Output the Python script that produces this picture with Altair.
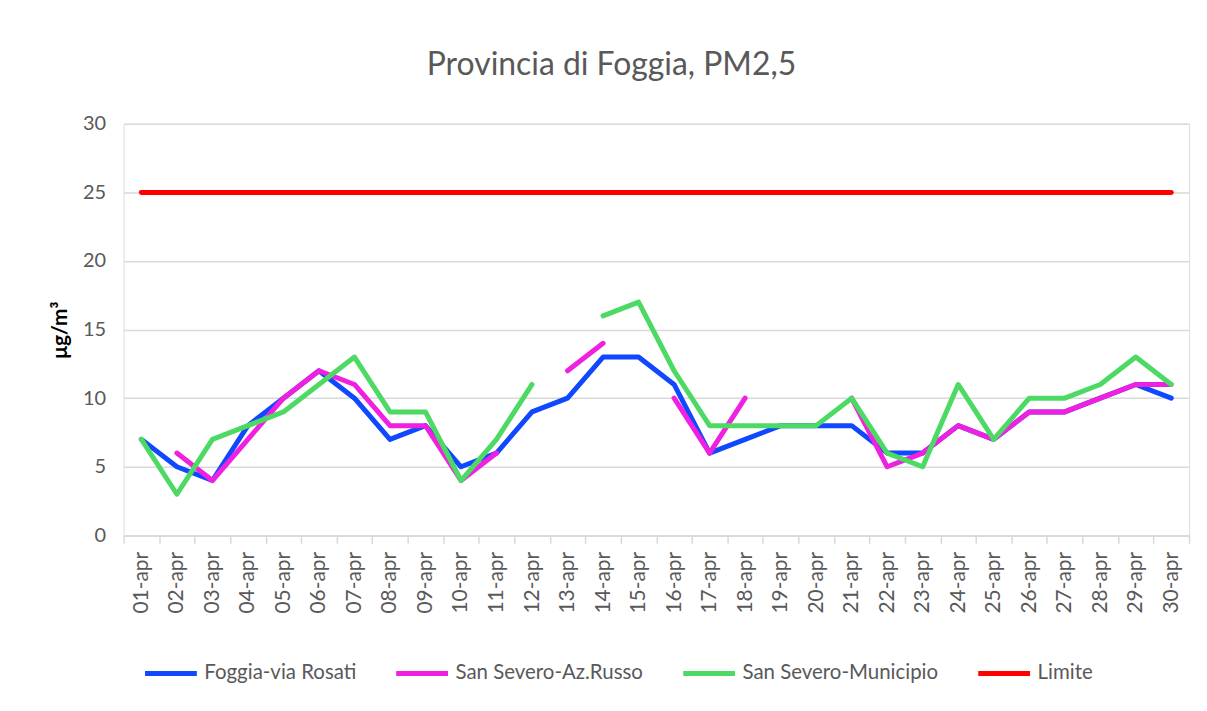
import altair as alt
import pandas as pd

days = [f"{d:02d}-apr" for d in range(1, 31)]

foggia = [7, 5, 4, 8, 10, 12, 10, 7, 8, 5, 6, 9, 10, 13, 13, 11, 6, 7, 8, 8,
          8, 6, 6, 8, 7, 9, 9, 10, 11, 10]
russo = [None, 6, 4, 7, 10, 12, 11, 8, 8, 4, 6, None, 12, 14, None, 10, 6, 10, None, None,
         10, 5, 6, 8, 7, 9, 9, 10, 11, 11]
municipio = [7, 3, 7, 8, 9, 11, 13, 9, 9, 4, 7, 11, None, 16, 17, 12, 8, 8, 8, 8,
             10, 6, 5, 11, 7, 10, 10, 11, 13, 11]
limite = [25] * 30

series_names = ["Foggia-via Rosati", "San Severo-Az.Russo", "San Severo-Municipio", "Limite"]
series_colors = ["#1048ff", "#f020e0", "#4cd964", "#ff0000"]
series_widths = [5, 5, 5, 6.5]

rows = []
for name, vals in zip(series_names, [foggia, russo, municipio, limite]):
    for i, (d, v) in enumerate(zip(days, vals)):
        rows.append({"day": d, "series": name, "order": series_names.index(name), "value": v})
df = pd.DataFrame(rows)

FONT = "Lato"
GRAY = "#595959"
LIGHT = "#d9d9d9"

chart = alt.Chart(df).mark_line(
    strokeCap="round", strokeJoin="round", invalid="break-paths-filter-domains"
).encode(
    x=alt.X(
        "day:O",
        sort=days,
        bandPosition=0.5,
        scale=alt.Scale(type="band", paddingInner=0, paddingOuter=0),
        axis=alt.Axis(
            title=None,
            labelAngle=270,
            labelFont=FONT,
            labelFontSize=21,
            labelColor=GRAY,
            tickBand="extent",
            tickSize=8,
            tickColor=LIGHT,
            tickWidth=1.5,
            domainColor=LIGHT,
            domainWidth=1.5,
            labelPadding=8,
            grid=False,
        ),
    ),
    y=alt.Y(
        "value:Q",
        scale=alt.Scale(domain=[0, 30], nice=False),
        axis=alt.Axis(
            title="μg/m³",
            titleFont=FONT,
            titleFontSize=21,
            titleFontWeight="bold",
            titleColor="#000000",
            titlePadding=12,
            values=[0, 5, 10, 15, 20, 25, 30],
            labelFont=FONT,
            labelFontSize=20,
            labelColor=GRAY,
            labelPadding=18,
            ticks=False,
            domain=False,
            gridColor=LIGHT,
            gridWidth=1.5,
        ),
    ),
    color=alt.Color(
        "series:N",
        sort=series_names,
        scale=alt.Scale(domain=series_names, range=series_colors),
        legend=alt.Legend(
            title=None,
            orient="none",
            legendX=19,
            legendY=523,
            direction="horizontal",
            columns=4,
            symbolType="stroke",
            symbolSize=2700,
            symbolStrokeWidth=6,
            labelFont=FONT,
            labelFontSize=20.5,
            labelColor=GRAY,
            labelOffset=5,
            labelLimit=0,
            columnPadding=29,
            padding=0,
        ),
    ),
    strokeWidth=alt.StrokeWidth(
        "series:N",
        scale=alt.Scale(domain=series_names, range=series_widths),
        legend=None,
    ),
    order=alt.Order("order:Q"),
    detail="series:N",
).properties(
    width=1069,
    height=413,
    title=alt.TitleParams(
        text="Provincia di Foggia, PM2,5",
        font=FONT,
        fontSize=32,
        fontWeight="normal",
        color=GRAY,
        frame="group",
        anchor="middle",
        dx=-45,
        offset=32,
    ),
    autosize=alt.AutoSizeParams(type="none"),
    padding={"left": 116, "top": 115, "right": 10, "bottom": 170},
).configure_view(stroke=None).configure(background="white")

chart.save("out.html", embed_options={"renderer": "svg", "actions": False})
